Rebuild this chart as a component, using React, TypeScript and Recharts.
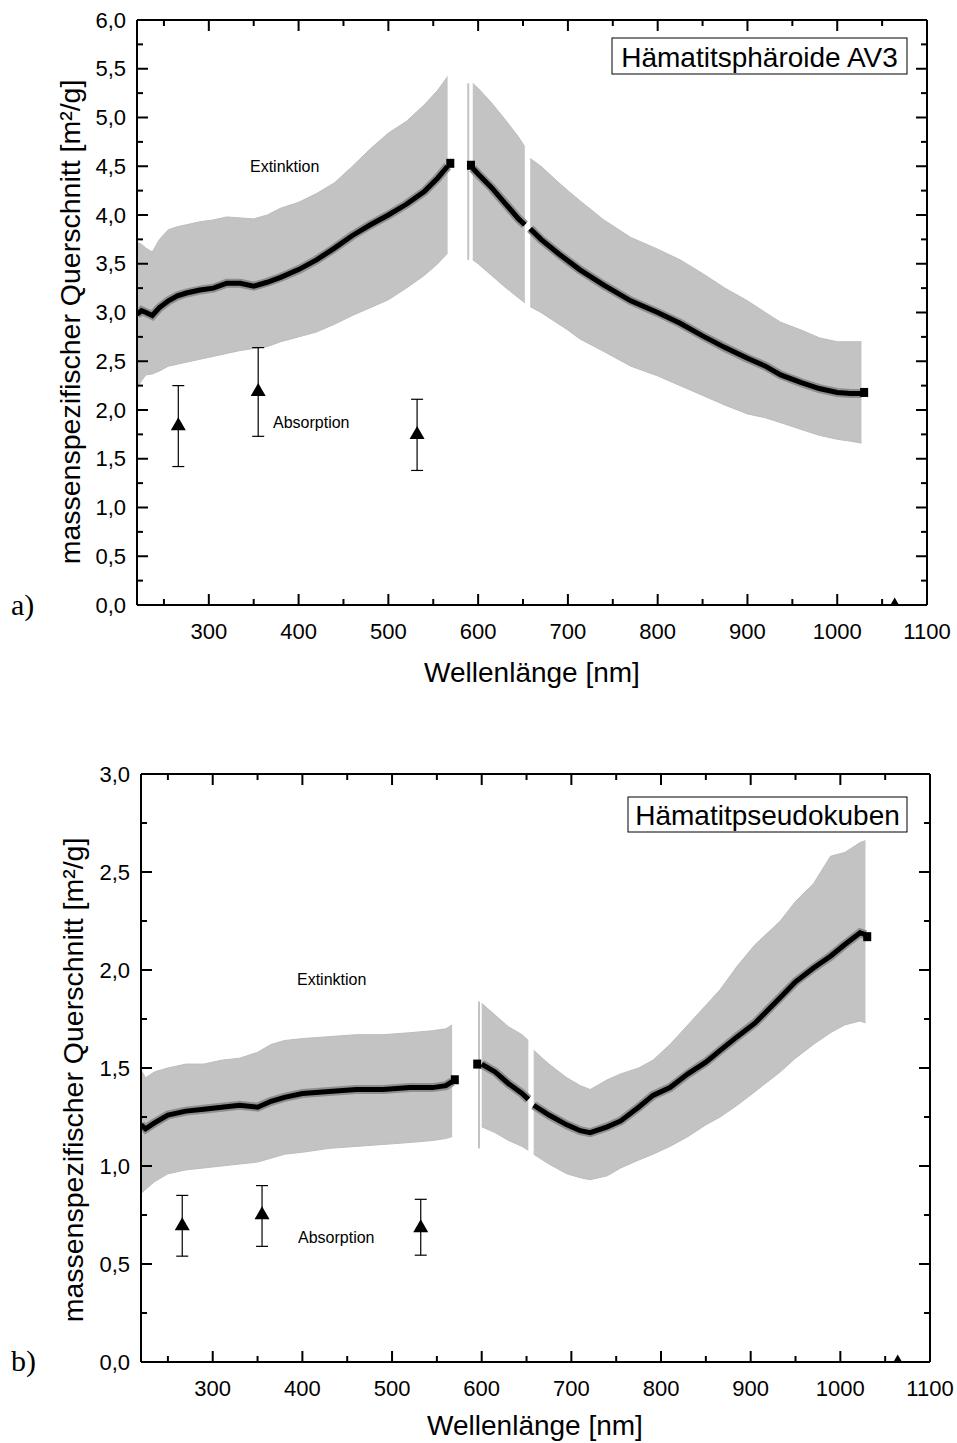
import React from 'react';
import { ComposedChart, Area, Line, Scatter, XAxis, YAxis, ErrorBar } from 'recharts';

const FONT = '"Liberation Sans", Arial, Helvetica, sans-serif';
const SERIF = '"Liberation Serif", "DejaVu Serif", serif';

// ---------- shared axis ticks ----------
const xMajorTicks = [300, 400, 500, 600, 700, 800, 900, 1000, 1100];
const xMinorTicks = [250, 350, 450, 550, 650, 750, 850, 950, 1050];
const yMajorA = [0, 0.5, 1, 1.5, 2, 2.5, 3, 3.5, 4, 4.5, 5, 5.5, 6];
const yMajorB = [0, 0.5, 1, 1.5, 2, 2.5, 3];

// ---------- panel a: Hämatitsphäroide AV3 ----------
const aWave = [220, 225, 230, 237, 245, 255, 265, 275, 290, 305, 320, 335, 350, 365, 380, 400, 420, 440, 460, 480, 500, 520, 540, 555, 566, 580, 594, 600, 615, 630, 645, 652, 655, 658, 670, 690, 700, 713, 740, 770, 800, 825, 850, 875, 900, 920, 937, 960, 980, 1000, 1015, 1027];
const aMean = [2.98, 3.02, 3.0, 2.97, 3.05, 3.12, 3.17, 3.2, 3.23, 3.25, 3.3, 3.3, 3.27, 3.31, 3.36, 3.44, 3.54, 3.66, 3.79, 3.9, 4.0, 4.11, 4.24, 4.38, 4.5, null, 4.48, 4.42, 4.28, 4.12, 3.96, 3.9, null, 3.86, 3.75, 3.6, 3.53, 3.44, 3.28, 3.12, 3.0, 2.89, 2.76, 2.64, 2.53, 2.45, 2.36, 2.28, 2.22, 2.18, 2.17, 2.17];
const aLow = [2.22, 2.3, 2.36, 2.37, 2.4, 2.45, 2.47, 2.49, 2.52, 2.55, 2.58, 2.61, 2.63, 2.65, 2.7, 2.75, 2.8, 2.88, 2.97, 3.05, 3.13, 3.25, 3.38, 3.5, 3.61, null, 3.54, 3.5, 3.38, 3.26, 3.15, 3.1, null, 3.06, 3.0, 2.88, 2.82, 2.73, 2.6, 2.45, 2.35, 2.25, 2.15, 2.05, 1.96, 1.92, 1.87, 1.8, 1.74, 1.7, 1.68, 1.66];
const aHigh = [3.72, 3.7, 3.66, 3.62, 3.75, 3.85, 3.88, 3.9, 3.93, 3.95, 3.98, 3.97, 3.96, 4.0, 4.07, 4.13, 4.22, 4.33, 4.5, 4.68, 4.84, 4.96, 5.13, 5.28, 5.42, null, 5.35, 5.3, 5.15, 4.98, 4.8, 4.7, null, 4.58, 4.5, 4.33, 4.25, 4.15, 3.95, 3.77, 3.65, 3.54, 3.4, 3.25, 3.12, 3.0, 2.9, 2.82, 2.74, 2.7, 2.7, 2.7];
const aEndWave = [569, 592, 1030];
const aEndVal = [4.53, 4.51, 2.18];
const aSpikeWave = [589];
const aSpikeLow = [3.54];
const aSpikeHigh = [5.35];
const absWave = [266, 355, 532, 1064];
const aAbs = [1.85, 2.2, 1.76, 0];
const aAbsLow = [1.42, 1.73, 1.38, null];
const aAbsHigh = [2.25, 2.64, 2.11, null];

// ---------- panel b: Hämatitpseudokuben ----------
const bWave = [220, 225, 235, 250, 270, 290, 310, 330, 350, 365, 380, 400, 430, 460, 490, 520, 545, 560, 567, 583, 600, 615, 630, 645, 652, 655, 658, 675, 695, 710, 721, 740, 755, 775, 791, 810, 830, 850, 866, 885, 905, 933, 950, 970, 989, 1005, 1022, 1028];
const bMean = [1.21, 1.19, 1.22, 1.26, 1.28, 1.29, 1.3, 1.31, 1.3, 1.33, 1.35, 1.37, 1.38, 1.39, 1.39, 1.4, 1.4, 1.41, 1.43, null, 1.52, 1.48, 1.42, 1.37, 1.34, null, 1.31, 1.26, 1.21, 1.18, 1.17, 1.2, 1.23, 1.3, 1.36, 1.4, 1.47, 1.53, 1.59, 1.66, 1.73, 1.86, 1.94, 2.01, 2.07, 2.13, 2.19, 2.18];
const bLow = [0.86, 0.88, 0.92, 0.96, 0.98, 0.99, 1.0, 1.01, 1.02, 1.04, 1.06, 1.07, 1.09, 1.1, 1.11, 1.12, 1.13, 1.14, 1.15, null, 1.2, 1.17, 1.13, 1.1, 1.08, null, 1.06, 1.01, 0.96, 0.94, 0.93, 0.95, 0.99, 1.03, 1.06, 1.1, 1.15, 1.21, 1.25, 1.31, 1.38, 1.48, 1.55, 1.62, 1.68, 1.72, 1.74, 1.73];
const bHigh = [1.49, 1.45, 1.48, 1.5, 1.52, 1.52, 1.54, 1.55, 1.58, 1.62, 1.64, 1.65, 1.66, 1.67, 1.67, 1.68, 1.69, 1.7, 1.72, null, 1.83, 1.77, 1.71, 1.67, 1.64, null, 1.59, 1.52, 1.45, 1.41, 1.39, 1.44, 1.47, 1.5, 1.54, 1.62, 1.72, 1.82, 1.9, 2.02, 2.13, 2.25, 2.35, 2.44, 2.58, 2.6, 2.65, 2.66];
const bEndWave = [570, 595, 1030];
const bEndVal = [1.44, 1.52, 2.17];
const bSpikeWave = [597];
const bSpikeLow = [1.09];
const bSpikeHigh = [1.84];
const bAbs = [0.7, 0.757, 0.69, 0];
const bAbsLow = [0.54, 0.59, 0.545, null];
const bAbsHigh = [0.85, 0.9, 0.83, null];

// ---------- builders ----------
const buildRows = (w: number[], m: (number | null)[], lo: (number | null)[], hi: (number | null)[]) =>
  w.map((nm, i) => ({ nm, mean: m[i], band: lo[i] == null || hi[i] == null ? null : [lo[i], hi[i]] }));
const buildPts = (w: number[], v: number[]) => w.map((nm, i) => ({ nm, v: v[i] }));
const buildErr = (w: number[], v: number[], lo: (number | null)[], hi: (number | null)[]) =>
  w.map((nm, i) => ({ nm, v: v[i], err: lo[i] == null ? null : [v[i] - (lo[i] as number), (hi[i] as number) - v[i]] }));
const buildSpike = (w: number[], lo: number[], hi: number[]) =>
  w.map((nm, i) => ({ nm, v: (lo[i] + hi[i]) / 2, err: [(hi[i] - lo[i]) / 2, (hi[i] - lo[i]) / 2] }));

const xTicks = [...xMajorTicks, ...xMinorTicks].sort((a, b) => a - b);
const minorY = (maj: number[]) => maj.slice(0, -1).map((v) => v + 0.25);
const yTicksOf = (maj: number[]) => [...maj, ...minorY(maj)].sort((a, b) => a - b);
const isMajorX = (v: number) => xMajorTicks.includes(v);
const isMajorY = (v: number) => Math.abs(v * 2 - Math.round(v * 2)) < 1e-6;
const fmtY = (v: number) => v.toFixed(1).replace('.', ',');

// ---------- tick renderers ----------
const BottomTick = (p: any) => {
  const maj = isMajorX(p.payload.value);
  return (
    <g>
      <line x1={p.x} x2={p.x} y1={p.y} y2={p.y - (maj ? 11 : 6)} stroke="#000" strokeWidth={2} />
      {maj && (
        <text x={p.x} y={p.y + 26} textAnchor="middle" dominantBaseline="central" fontSize={22} fontFamily={FONT} fill="#000">
          {p.payload.value}
        </text>
      )}
    </g>
  );
};
const TopTick = (p: any) => {
  const maj = isMajorX(p.payload.value);
  return <line x1={p.x} x2={p.x} y1={p.y} y2={p.y + (maj ? 11 : 6)} stroke="#000" strokeWidth={2} />;
};
const LeftTick = (p: any) => {
  const maj = isMajorY(p.payload.value);
  return (
    <g>
      <line x1={p.x} x2={p.x + (maj ? 11 : 6)} y1={p.y} y2={p.y} stroke="#000" strokeWidth={2} />
      {maj && (
        <text x={p.x - 11} y={p.y} textAnchor="end" dominantBaseline="central" fontSize={22} fontFamily={FONT} fill="#000">
          {fmtY(p.payload.value)}
        </text>
      )}
    </g>
  );
};
const RightTick = (p: any) => {
  const maj = isMajorY(p.payload.value);
  return <line x1={p.x} x2={p.x - (maj ? 11 : 6)} y1={p.y} y2={p.y} stroke="#000" strokeWidth={2} />;
};

const Triangle = (p: any) => {
  const { cx, cy } = p;
  if (cx == null || cy == null) return <g />;
  return <polygon points={`${cx - 7.5},${cy + 5.5} ${cx + 7.5},${cy + 5.5} ${cx},${cy - 7.5}`} fill="#000" />;
};
const Square = (p: any) => {
  const { cx, cy } = p;
  if (cx == null || cy == null) return <g />;
  return <rect x={cx - 4} y={cy - 4.5} width={8} height={9} fill="#000" />;
};
const Empty = () => <g />;

type PanelProps = {
  width: number;
  height: number;
  margin: { top: number; right: number; bottom: number; left: number };
  rows: any[];
  ends: any[];
  abs: any[];
  spikes: any[];
  yMax: number;
  yMajor: number[];
};

const axisLine = { stroke: '#000', strokeWidth: 2 };

const Panel = ({ width, height, margin, rows, ends, abs, spikes, yMax, yMajor }: PanelProps) => {
  const yTicks = yTicksOf(yMajor);
  return (
    <ComposedChart width={width} height={height} margin={margin} data={rows}>
      <XAxis
        xAxisId="b"
        dataKey="nm"
        type="number"
        domain={[220, 1100]}
        allowDataOverflow
        ticks={xTicks}
        interval={0}
        height={1}
        tickSize={0}
        tickMargin={0}
        tickLine={false}
        axisLine={axisLine}
        tick={<BottomTick />}
      />
      <XAxis
        xAxisId="t"
        orientation="top"
        dataKey="nm"
        type="number"
        domain={[220, 1100]}
        allowDataOverflow
        ticks={xTicks}
        interval={0}
        height={1}
        tickSize={0}
        tickMargin={0}
        tickLine={false}
        axisLine={axisLine}
        tick={<TopTick />}
      />
      <YAxis
        yAxisId="l"
        type="number"
        domain={[0, yMax]}
        allowDataOverflow
        ticks={yTicks}
        interval={0}
        width={1}
        tickSize={0}
        tickMargin={0}
        tickLine={false}
        axisLine={axisLine}
        tick={<LeftTick />}
      />
      <YAxis
        yAxisId="r"
        orientation="right"
        type="number"
        domain={[0, yMax]}
        allowDataOverflow
        ticks={yTicks}
        interval={0}
        width={1}
        tickSize={0}
        tickMargin={0}
        tickLine={false}
        axisLine={axisLine}
        tick={<RightTick />}
      />
      <Area
        xAxisId="b"
        yAxisId="l"
        type="linear"
        dataKey="band"
        fill="#c3c3c3"
        fillOpacity={1}
        stroke="#bdbdbd"
        strokeWidth={1}
        isAnimationActive={false}
        dot={false}
        activeDot={false}
      />
      <Scatter xAxisId="b" yAxisId="l" data={spikes} dataKey="v" shape={<Empty />} isAnimationActive={false}>
        <ErrorBar dataKey="err" direction="y" width={0} stroke="#c3c3c3" strokeWidth={2} />
      </Scatter>
      <Line
        xAxisId="b"
        yAxisId="l"
        type="linear"
        dataKey="mean"
        stroke="#8f8f8f"
        strokeWidth={9}
        dot={false}
        activeDot={false}
        isAnimationActive={false}
      />
      <Line
        xAxisId="b"
        yAxisId="l"
        type="linear"
        dataKey="mean"
        stroke="#000"
        strokeWidth={5}
        dot={false}
        activeDot={false}
        isAnimationActive={false}
      />
      <Scatter xAxisId="b" yAxisId="l" data={ends} dataKey="v" shape={<Square />} isAnimationActive={false} />
      <Scatter xAxisId="b" yAxisId="l" data={abs} dataKey="v" shape={<Triangle />} isAnimationActive={false}>
        <ErrorBar dataKey="err" direction="y" width={6} stroke="#000" strokeWidth={1.2} />
      </Scatter>
    </ComposedChart>
  );
};

const aRows = buildRows(aWave, aMean, aLow, aHigh);
const bRows = buildRows(bWave, bMean, bLow, bHigh);

export default function App() {
  return (
    <div style={{ position: 'absolute', left: 0, top: 0, width: 957, height: 1443, background: '#fff', overflow: 'hidden' }}>
      <div style={{ position: 'absolute', left: 0, top: 0 }}>
        <Panel
          width={957}
          height={720}
          margin={{ top: 19, right: 29, bottom: 114, left: 136 }}
          rows={aRows}
          ends={buildPts(aEndWave, aEndVal)}
          abs={buildErr(absWave, aAbs, aAbsLow, aAbsHigh)}
          spikes={buildSpike(aSpikeWave, aSpikeLow, aSpikeHigh)}
          yMax={6}
          yMajor={yMajorA}
        />
      </div>
      <div style={{ position: 'absolute', left: 0, top: 720 }}>
        <Panel
          width={957}
          height={723}
          margin={{ top: 53, right: 26, bottom: 80, left: 140 }}
          rows={bRows}
          ends={buildPts(bEndWave, bEndVal)}
          abs={buildErr(absWave, bAbs, bAbsLow, bAbsHigh)}
          spikes={buildSpike(bSpikeWave, bSpikeLow, bSpikeHigh)}
          yMax={3}
          yMajor={yMajorB}
        />
      </div>
      <svg width={957} height={1443} style={{ position: 'absolute', left: 0, top: 0, pointerEvents: 'none' }}>
        {/* panel a labels */}
        <text x={70} y={322} transform="rotate(-90, 70, 322)" textAnchor="middle" dominantBaseline="central" fontSize={28.5} fontFamily={FONT}>
          massenspezifischer Querschnitt [m²/g]
        </text>
        <text x={532} y={672} textAnchor="middle" dominantBaseline="central" fontSize={28} fontFamily={FONT}>
          Wellenlänge [nm]
        </text>
        <text x={11} y={615} fontSize={30} fontFamily={SERIF}>a)</text>
        <rect x={612} y={38} width={295} height={36} fill="#fff" stroke="#000" strokeWidth={1} />
        <text x={759.5} y={57} textAnchor="middle" dominantBaseline="central" fontSize={28} fontFamily={FONT}>
          Hämatitsphäroide AV3
        </text>
        <text x={250} y={166} dominantBaseline="central" fontSize={16} fontFamily={FONT}>Extinktion</text>
        <text x={273} y={422} dominantBaseline="central" fontSize={16} fontFamily={FONT}>Absorption</text>

        {/* panel b labels */}
        <text x={73} y={1080} transform="rotate(-90, 73, 1080)" textAnchor="middle" dominantBaseline="central" fontSize={28.5} fontFamily={FONT}>
          massenspezifischer Querschnitt [m²/g]
        </text>
        <text x={535} y={1425} textAnchor="middle" dominantBaseline="central" fontSize={28} fontFamily={FONT}>
          Wellenlänge [nm]
        </text>
        <text x={11} y={1371} fontSize={30} fontFamily={SERIF}>b)</text>
        <rect x={628} y={797} width={279} height={35} fill="#fff" stroke="#000" strokeWidth={1} />
        <text x={767.5} y={815} textAnchor="middle" dominantBaseline="central" fontSize={28} fontFamily={FONT}>
          Hämatitpseudokuben
        </text>
        <text x={297} y={979} dominantBaseline="central" fontSize={16} fontFamily={FONT}>Extinktion</text>
        <text x={298} y={1237} dominantBaseline="central" fontSize={16} fontFamily={FONT}>Absorption</text>
      </svg>
    </div>
  );
}
